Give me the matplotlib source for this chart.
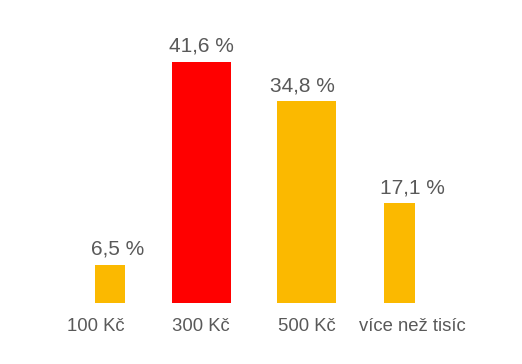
import matplotlib
matplotlib.use("Agg")
import matplotlib.pyplot as plt

categories = ["100 Kč", "300 Kč", "500 Kč", "více než tisíc"]
values = [6.5, 41.6, 34.8, 17.1]
value_labels = ["6,5 %", "41,6 %", "34,8 %", "17,1 %"]

# styles
colors = ["#FBB900", "#FF0000", "#FBB900", "#FBB900"]
widths = [0.285, 0.56, 0.56, 0.29]
bar_offsets = [0.133, 0.0, 0.0, -0.119]
label_dx_px = [22, 0, -4, 1]
text_color = "#595959"

plt.rcParams['font.family'] = ['Liberation Sans', 'DejaVu Sans']
fig = plt.figure(figsize=(5.22, 3.64), dpi=100)
ax = fig.add_axes([0, 0, 1, 1])
ax.set_xlim(-96 / 105.3, (522 - 96) / 105.3)
ax.set_ylim(-(364 - 302.5) / 5.79, 302.5 / 5.79)
ax.axis('off')

xs = [i + o for i, o in enumerate(bar_offsets)]
ax.bar(xs, values, width=widths, color=colors, linewidth=0)

for i, (v, lab) in enumerate(zip(values, value_labels)):
    ax.annotate(lab, xy=(i, v), xytext=(label_dx_px[i], 6), textcoords='offset pixels',
                ha='center', va='bottom', fontsize=15, color=text_color)
    ax.annotate(categories[i], xy=(i, 0), xytext=(0, -24), textcoords='offset pixels',
                ha='center', va='center', fontsize=13.3, color=text_color)

fig.savefig("out.png", dpi=100)
